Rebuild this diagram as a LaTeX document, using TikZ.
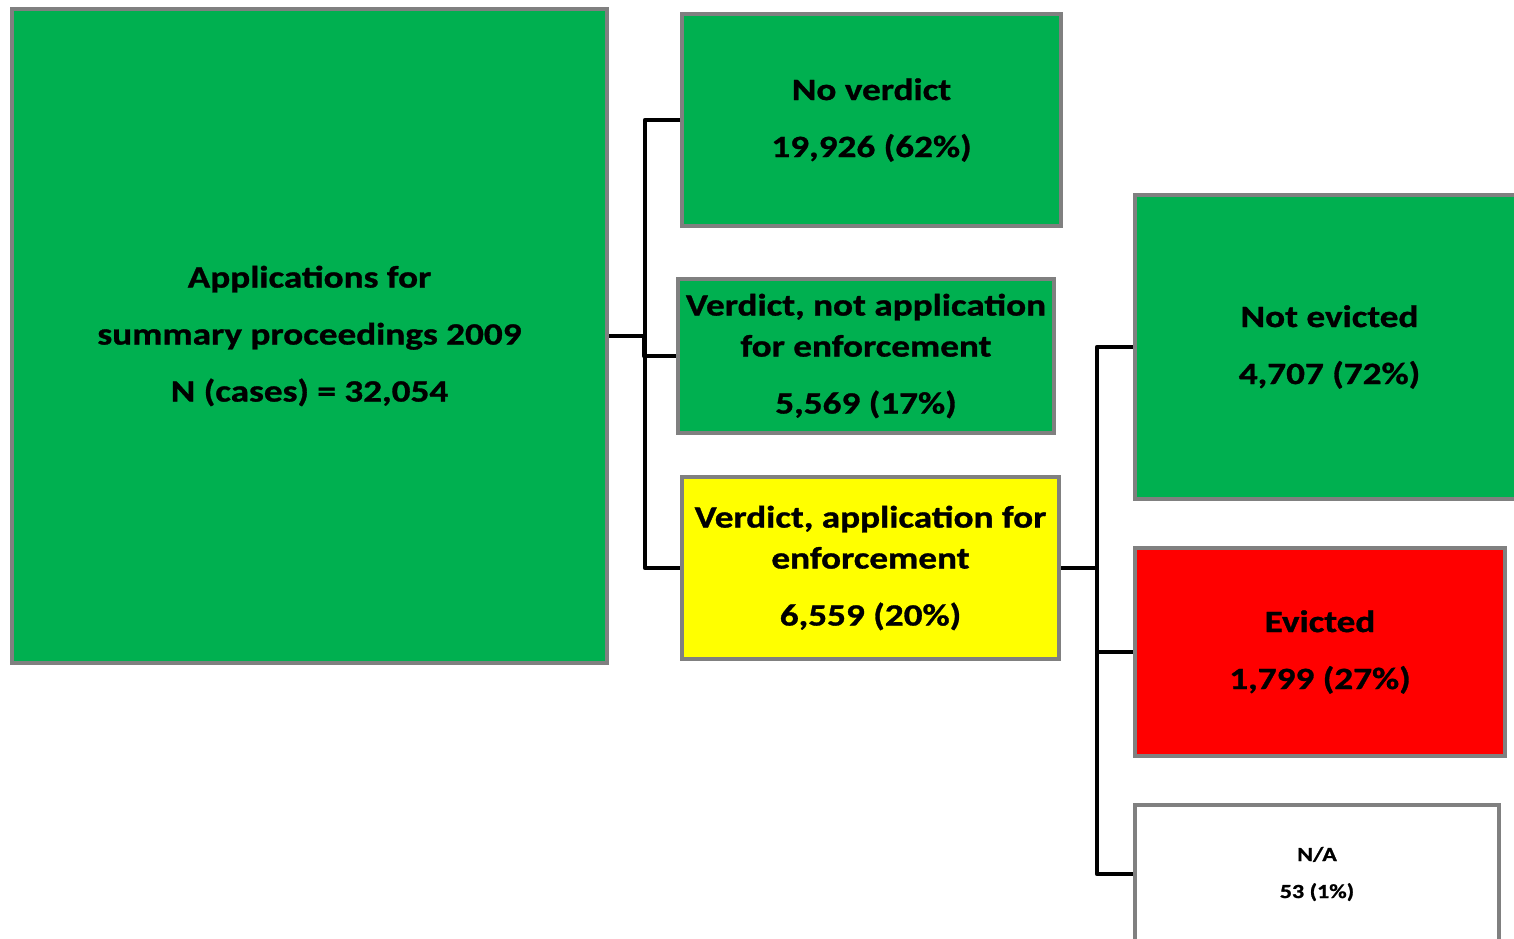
\documentclass[tikz,border=0pt]{standalone}
\usepackage{fontspec}
\setmainfont{Carlito}[FakeStretch=1.2, BoldFeatures={FakeBold=1}]
\definecolor{boxgreen}{HTML}{00B050}
\definecolor{boxyellow}{HTML}{FFFF00}
\definecolor{boxred}{HTML}{FF0000}
\definecolor{boxgray}{HTML}{808080}
\begin{document}
\begin{tikzpicture}[x=1pt, y=-1pt,
  box/.style={draw=boxgray, line width=4pt, rectangle, align=center, inner sep=0pt,
    font=\fontsize{31}{41}\selectfont\bfseries},
  link/.style={draw=black, line width=4.5pt, line join=round}]
\useasboundingbox (0,0) rectangle (1514,938);

% Applications
\node[box, fill=boxgreen, minimum width=595pt, minimum height=654pt] (apps) at (309.5,336)
  {Applications for\\[16pt] summary proceedings 2009\\[16pt] N (cases) = 32,054};

% Verdict outcomes
\node[box, fill=boxgreen, minimum width=379pt, minimum height=212pt] (nov) at (871.5,120)
  {No verdict\\[16pt] 19,926 (62\%)};
\node[box, fill=boxgreen, minimum width=376pt, minimum height=154pt] (vna) at (866,356)
  {Verdict, not application\\ for enforcement\\[16pt] 5,569 (17\%)};
\node[box, fill=boxyellow, minimum width=377pt, minimum height=182pt] (va) at (870.5,568)
  {Verdict, application for\\ enforcement\\[16pt] 6,559 (20\%)};

% Enforcement outcomes
\node[box, fill=boxgreen, minimum width=389pt, minimum height=304pt] (ne) at (1329.5,347)
  {Not evicted\\[16pt] 4,707 (72\%)};
\node[box, fill=boxred, minimum width=370pt, minimum height=208pt] (ev) at (1320,652)
  {Evicted\\[16pt] 1,799 (27\%)};
\node[box, fill=white, minimum width=364pt, minimum height=138pt,
  font=\fontsize{20}{27}\selectfont\bfseries] (na) at (1317,874)
  {N/A\\[10pt] 53 (1\%)};

% Tree lines
\coordinate (trunk) at (645,0);
\coordinate (split) at (1097,0);
\draw[link] (apps.east) -- ++(35,0) |- (vna.west);
\draw[link] (nov.west) -| (trunk |- va.west) -- (va.west);
\draw[link] (va.east) -- (split |- va.east);
\draw[link] (ne.west) -| (split |- na.west) -- (na.west);
\draw[link] (split |- ev.west) -- (ev.west);
\end{tikzpicture}
\end{document}
